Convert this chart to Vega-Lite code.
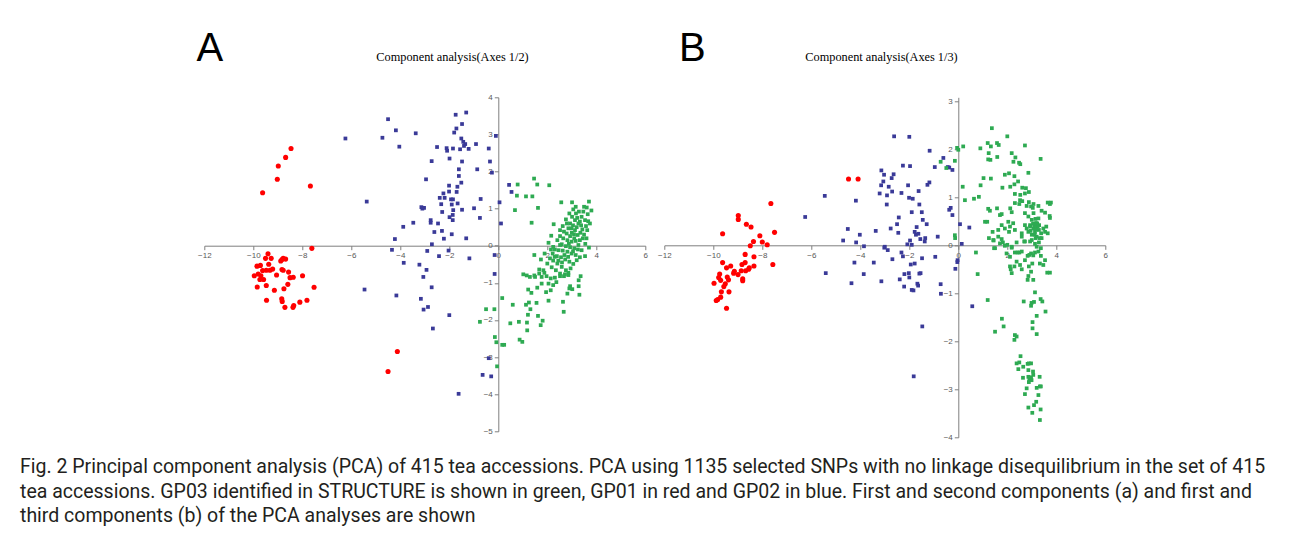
{
  "$schema": "https://vega.github.io/schema/vega-lite/v6.json",
  "autosize": {"type": "none"},
  "padding": {"left": 204.3, "top": 97.3, "right": 1087.7, "bottom": 437.7},
  "background": "white",
  "config": {
    "view": {"stroke": null},
    "concat": {"spacing": 9},
    "axis": {
      "grid": false, "labelFont": "Liberation Sans", "labelFontSize": 8, "labelColor": "#595959",
      "domainColor": "#7f7f7f", "tickColor": "#7f7f7f", "tickSize": 4, "labelPadding": 2,
      "labelOverlap": false, "labelFlush": false, "titleFontWeight": "normal", "titleColor": "#000000"
    }
  },
  "title": {
    "text": [
      "Fig. 2 Principal component analysis (PCA) of 415 tea accessions. PCA using 1135 selected SNPs with no linkage disequilibrium in the set of 415",
      "tea accessions. GP03 identified in STRUCTURE is shown in green, GP01 in red and GP02 in blue. First and second components (a) and first and",
      "third components (b) of the PCA analyses are shown"
    ],
    "orient": "bottom", "anchor": "start", "font": "Roboto", "fontSize": 19.5, "fontWeight": "normal",
    "lineHeight": 24.5, "color": "#231f20", "dx": -176, "offset": 17
  },
  "datasets": {
    "A": [
      {"x":-8.46,"y":2.62,"g":"GP01"},{"x":-8.68,"y":2.38,"g":"GP01"},{"x":-8.98,"y":2.15,"g":"GP01"},{"x":-9.02,"y":1.79,"g":"GP01"},{"x":-9.62,"y":1.43,"g":"GP01"},{"x":-7.67,"y":1.61,"g":"GP01"},{"x":-7.61,"y":-0.07,"g":"GP01"},
      {"x":-9.40,"y":-0.22,"g":"GP01"},{"x":-9.27,"y":-0.34,"g":"GP01"},{"x":-9.50,"y":-0.34,"g":"GP01"},{"x":-9.71,"y":-0.53,"g":"GP01"},{"x":-9.85,"y":-0.55,"g":"GP01"},{"x":-9.37,"y":-0.50,"g":"GP01"},{"x":-9.96,"y":-0.81,"g":"GP01"},{"x":-9.80,"y":-0.76,"g":"GP01"},{"x":-9.69,"y":-0.81,"g":"GP01"},{"x":-9.73,"y":-0.91,"g":"GP01"},{"x":-9.58,"y":-0.91,"g":"GP01"},{"x":-9.62,"y":-0.67,"g":"GP01"},{"x":-9.47,"y":-0.66,"g":"GP01"},{"x":-9.32,"y":-0.66,"g":"GP01"},{"x":-9.21,"y":-0.63,"g":"GP01"},{"x":-9.84,"y":-1.11,"g":"GP01"},{"x":-9.47,"y":-1.07,"g":"GP01"},{"x":-9.05,"y":-0.79,"g":"GP01"},{"x":-9.14,"y":-1.20,"g":"GP01"},{"x":-9.46,"y":-1.47,"g":"GP01"},{"x":-8.88,"y":-0.41,"g":"GP01"},{"x":-8.83,"y":-0.37,"g":"GP01"},{"x":-8.78,"y":-0.34,"g":"GP01"},{"x":-8.68,"y":-0.36,"g":"GP01"},{"x":-8.83,"y":-0.64,"g":"GP01"},{"x":-8.78,"y":-0.66,"g":"GP01"},{"x":-8.56,"y":-0.71,"g":"GP01"},{"x":-8.50,"y":-0.86,"g":"GP01"},{"x":-8.37,"y":-0.85,"g":"GP01"},{"x":-8.59,"y":-1.04,"g":"GP01"},{"x":-8.75,"y":-1.16,"g":"GP01"},{"x":-7.99,"y":-0.81,"g":"GP01"},{"x":-7.52,"y":-1.12,"g":"GP01"},{"x":-8.84,"y":-1.43,"g":"GP01"},{"x":-8.82,"y":-1.50,"g":"GP01"},{"x":-8.71,"y":-1.66,"g":"GP01"},{"x":-8.38,"y":-1.66,"g":"GP01"},{"x":-8.35,"y":-1.61,"g":"GP01"},{"x":-8.10,"y":-1.52,"g":"GP01"},{"x":-7.81,"y":-1.47,"g":"GP01"},{"x":-4.12,"y":-2.85,"g":"GP01"},{"x":-4.50,"y":-3.39,"g":"GP01"},
      {"x":-4.50,"y":3.41,"g":"GP02"},{"x":-4.18,"y":3.11,"g":"GP02"},{"x":-4.04,"y":2.67,"g":"GP02"},{"x":-4.73,"y":2.91,"g":"GP02"},{"x":-6.24,"y":2.89,"g":"GP02"},{"x":-3.37,"y":3.03,"g":"GP02"},{"x":-1.74,"y":3.53,"g":"GP02"},{"x":-1.31,"y":3.59,"g":"GP02"},{"x":-1.71,"y":3.16,"g":"GP02"},{"x":-1.48,"y":3.28,"g":"GP02"},{"x":-1.80,"y":3.05,"g":"GP02"},{"x":-1.51,"y":2.89,"g":"GP02"},{"x":-1.43,"y":2.80,"g":"GP02"},{"x":-1.35,"y":2.74,"g":"GP02"},{"x":-1.40,"y":2.69,"g":"GP02"},{"x":-1.21,"y":2.61,"g":"GP02"},{"x":-1.56,"y":2.60,"g":"GP02"},{"x":-0.91,"y":2.74,"g":"GP02"},{"x":-0.10,"y":2.96,"g":"GP02"},{"x":-0.39,"y":2.62,"g":"GP02"},{"x":-0.34,"y":2.27,"g":"GP02"},{"x":-0.26,"y":1.97,"g":"GP02"},{"x":-2.50,"y":2.66,"g":"GP02"},{"x":-2.11,"y":2.63,"g":"GP02"},{"x":-2.09,"y":2.56,"g":"GP02"},{"x":-1.85,"y":2.62,"g":"GP02"},{"x":-1.99,"y":2.35,"g":"GP02"},{"x":-2.72,"y":2.28,"g":"GP02"},{"x":-1.48,"y":2.27,"g":"GP02"},{"x":-1.61,"y":2.06,"g":"GP02"},{"x":-0.86,"y":2.06,"g":"GP02"},{"x":-1.61,"y":1.88,"g":"GP02"},{"x":-1.51,"y":1.70,"g":"GP02"},{"x":-2.95,"y":1.79,"g":"GP02"},{"x":-2.01,"y":1.62,"g":"GP02"},{"x":-1.67,"y":1.59,"g":"GP02"},{"x":-1.70,"y":1.45,"g":"GP02"},{"x":-2.01,"y":1.46,"g":"GP02"},{"x":-2.24,"y":1.41,"g":"GP02"},{"x":-2.39,"y":1.29,"g":"GP02"},{"x":-2.19,"y":1.29,"g":"GP02"},{"x":-1.93,"y":1.25,"g":"GP02"},{"x":-1.85,"y":1.25,"g":"GP02"},{"x":-1.66,"y":1.14,"g":"GP02"},{"x":-2.33,"y":1.12,"g":"GP02"},{"x":-1.90,"y":1.11,"g":"GP02"},{"x":-0.72,"y":1.26,"g":"GP02"},{"x":-3.14,"y":1.04,"g":"GP02"},{"x":-3.03,"y":1.02,"g":"GP02"},{"x":-3.10,"y":1.00,"g":"GP02"},{"x":-1.48,"y":0.97,"g":"GP02"},{"x":-1.84,"y":0.96,"g":"GP02"},{"x":-0.99,"y":1.01,"g":"GP02"},{"x":-2.29,"y":0.91,"g":"GP02"},{"x":-1.86,"y":0.83,"g":"GP02"},{"x":-1.99,"y":0.77,"g":"GP02"},{"x":-1.86,"y":0.69,"g":"GP02"},{"x":-0.75,"y":0.75,"g":"GP02"},{"x":-2.76,"y":0.69,"g":"GP02"},{"x":-2.76,"y":0.62,"g":"GP02"},{"x":-2.46,"y":0.60,"g":"GP02"},{"x":-3.47,"y":0.62,"g":"GP02"},{"x":-3.88,"y":0.51,"g":"GP02"},{"x":-2.61,"y":0.37,"g":"GP02"},{"x":-2.30,"y":0.40,"g":"GP02"},{"x":-1.90,"y":0.31,"g":"GP02"},{"x":-2.22,"y":0.19,"g":"GP02"},{"x":-1.31,"y":0.20,"g":"GP02"},{"x":-4.22,"y":0.18,"g":"GP02"},{"x":-2.71,"y":0.04,"g":"GP02"},{"x":0.05,"y":1.17,"g":"GP02"},{"x":0.11,"y":0.60,"g":"GP02"},{"x":-4.34,"y":-0.11,"g":"GP02"},{"x":-2.90,"y":-0.14,"g":"GP02"},{"x":-2.03,"y":-0.13,"g":"GP02"},{"x":-3.86,"y":-0.46,"g":"GP02"},{"x":-1.18,"y":-0.34,"g":"GP02"},{"x":-0.15,"y":-0.25,"g":"GP02"},{"x":-5.37,"y":1.19,"g":"GP02"},{"x":0.44,"y":1.64,"g":"GP02"},{"x":0.54,"y":1.45,"g":"GP02"},
      {"x":-3.22,"y":-0.51,"g":"GP02"},{"x":-2.93,"y":-0.65,"g":"GP02"},{"x":-3.06,"y":-0.84,"g":"GP02"},{"x":-2.72,"y":-1.12,"g":"GP02"},{"x":-5.46,"y":-1.18,"g":"GP02"},{"x":-4.16,"y":-1.34,"g":"GP02"},{"x":-3.16,"y":-1.43,"g":"GP02"},{"x":-3.05,"y":-1.72,"g":"GP02"},{"x":-2.87,"y":-1.65,"g":"GP02"},{"x":-2.00,"y":-1.87,"g":"GP02"},{"x":-2.67,"y":-2.23,"g":"GP02"},{"x":-2.42,"y":-0.28,"g":"GP02"},{"x":-0.15,"y":-0.76,"g":"GP02"},{"x":-0.39,"y":-3.03,"g":"GP02"},{"x":-0.64,"y":-3.48,"g":"GP02"},{"x":-0.29,"y":-3.52,"g":"GP02"},{"x":-1.62,"y":-3.99,"g":"GP02"},
      {"x":1.46,"y":1.81,"g":"GP03"},{"x":1.59,"y":1.65,"g":"GP03"},{"x":2.08,"y":1.63,"g":"GP03"},{"x":0.79,"y":1.65,"g":"GP03"},{"x":0.76,"y":1.35,"g":"GP03"},{"x":1.13,"y":1.33,"g":"GP03"},{"x":1.39,"y":1.33,"g":"GP03"},{"x":0.68,"y":0.96,"g":"GP03"},{"x":1.62,"y":1.02,"g":"GP03"},{"x":1.36,"y":0.62,"g":"GP03"},{"x":2.57,"y":1.17,"g":"GP03"},{"x":3.01,"y":1.17,"g":"GP03"},{"x":3.70,"y":1.19,"g":"GP03"},{"x":3.50,"y":1.05,"g":"GP03"},{"x":3.61,"y":1.03,"g":"GP03"},{"x":2.26,"y":0.58,"g":"GP03"},{"x":2.16,"y":0.27,"g":"GP03"},{"x":2.05,"y":0.08,"g":"GP03"},
      {"x":3.06,"y":0.98,"g":"GP03"},{"x":3.17,"y":0.87,"g":"GP03"},{"x":3.29,"y":0.92,"g":"GP03"},{"x":3.40,"y":0.78,"g":"GP03"},{"x":3.54,"y":0.69,"g":"GP03"},{"x":3.67,"y":0.66,"g":"GP03"},{"x":3.74,"y":0.60,"g":"GP03"},{"x":3.58,"y":0.53,"g":"GP03"},{"x":3.63,"y":0.42,"g":"GP03"},{"x":3.43,"y":0.44,"g":"GP03"},{"x":3.27,"y":0.60,"g":"GP03"},{"x":3.13,"y":0.69,"g":"GP03"},{"x":3.01,"y":0.78,"g":"GP03"},{"x":2.93,"y":0.60,"g":"GP03"},{"x":2.86,"y":0.47,"g":"GP03"},{"x":2.79,"y":0.33,"g":"GP03"},{"x":2.93,"y":0.26,"g":"GP03"},{"x":3.09,"y":0.31,"g":"GP03"},{"x":3.24,"y":0.29,"g":"GP03"},{"x":3.33,"y":0.15,"g":"GP03"},{"x":3.16,"y":0.13,"g":"GP03"},{"x":2.99,"y":0.11,"g":"GP03"},{"x":2.82,"y":0.15,"g":"GP03"},{"x":2.65,"y":0.20,"g":"GP03"},{"x":2.52,"y":0.26,"g":"GP03"},{"x":2.41,"y":0.15,"g":"GP03"},{"x":2.59,"y":0.04,"g":"GP03"},{"x":2.76,"y":-0.01,"g":"GP03"},{"x":2.93,"y":-0.04,"g":"GP03"},{"x":3.10,"y":-0.07,"g":"GP03"},{"x":3.27,"y":0.02,"g":"GP03"},{"x":3.40,"y":-0.12,"g":"GP03"},{"x":3.54,"y":-0.28,"g":"GP03"},{"x":3.33,"y":-0.31,"g":"GP03"},{"x":3.16,"y":-0.25,"g":"GP03"},{"x":2.99,"y":-0.21,"g":"GP03"},{"x":2.82,"y":-0.16,"g":"GP03"},{"x":2.63,"y":-0.13,"g":"GP03"},{"x":2.46,"y":-0.12,"g":"GP03"},{"x":2.31,"y":-0.10,"g":"GP03"},{"x":2.22,"y":-0.21,"g":"GP03"},{"x":2.39,"y":-0.28,"g":"GP03"},{"x":2.56,"y":-0.31,"g":"GP03"},{"x":2.73,"y":-0.37,"g":"GP03"},{"x":2.90,"y":-0.43,"g":"GP03"},{"x":3.06,"y":-0.49,"g":"GP03"},{"x":3.20,"y":-0.39,"g":"GP03"},{"x":2.95,"y":-0.61,"g":"GP03"},{"x":2.76,"y":-0.66,"g":"GP03"},{"x":2.59,"y":-0.57,"g":"GP03"},{"x":2.41,"y":-0.48,"g":"GP03"},{"x":2.24,"y":-0.40,"g":"GP03"},{"x":2.11,"y":-0.34,"g":"GP03"},{"x":2.00,"y":-0.48,"g":"GP03"},{"x":2.18,"y":-0.58,"g":"GP03"},{"x":2.35,"y":-0.66,"g":"GP03"},{"x":2.52,"y":-0.75,"g":"GP03"},{"x":2.68,"y":-0.82,"g":"GP03"},{"x":2.86,"y":-0.79,"g":"GP03"},{"x":1.84,"y":-0.66,"g":"GP03"},{"x":1.67,"y":-0.75,"g":"GP03"},{"x":1.50,"y":-0.84,"g":"GP03"},{"x":1.97,"y":-0.82,"g":"GP03"},{"x":2.14,"y":-0.88,"g":"GP03"},{"x":2.31,"y":-0.86,"g":"GP03"},{"x":1.74,"y":-0.37,"g":"GP03"},{"x":1.47,"y":-0.25,"g":"GP03"},{"x":1.89,"y":-0.21,"g":"GP03"},{"x":2.24,"y":-0.03,"g":"GP03"},{"x":2.52,"y":0.02,"g":"GP03"},{"x":2.68,"y":0.38,"g":"GP03"},{"x":2.99,"y":0.47,"g":"GP03"},{"x":3.13,"y":0.42,"g":"GP03"},{"x":3.33,"y":0.65,"g":"GP03"},{"x":3.47,"y":0.92,"g":"GP03"},{"x":3.16,"y":1.05,"g":"GP03"},{"x":2.90,"y":0.87,"g":"GP03"},{"x":2.76,"y":0.71,"g":"GP03"},{"x":2.63,"y":0.53,"g":"GP03"},{"x":2.52,"y":0.42,"g":"GP03"},
      {"x":3.20,"y":0.50,"g":"GP03"},{"x":3.05,"y":0.55,"g":"GP03"},{"x":3.35,"y":0.35,"g":"GP03"},{"x":3.45,"y":0.20,"g":"GP03"},{"x":3.55,"y":0.05,"g":"GP03"},{"x":3.10,"y":0.20,"g":"GP03"},{"x":2.88,"y":0.05,"g":"GP03"},{"x":3.00,"y":0.35,"g":"GP03"},{"x":3.22,"y":0.75,"g":"GP03"},{"x":3.38,"y":0.55,"g":"GP03"},{"x":3.65,"y":0.85,"g":"GP03"},{"x":3.50,"y":0.30,"g":"GP03"},{"x":2.70,"y":-0.25,"g":"GP03"},{"x":2.85,"y":-0.30,"g":"GP03"},{"x":3.05,"y":-0.15,"g":"GP03"},{"x":2.60,"y":-0.45,"g":"GP03"},{"x":2.45,"y":-0.40,"g":"GP03"},{"x":2.30,"y":-0.30,"g":"GP03"},{"x":2.15,"y":-0.10,"g":"GP03"},{"x":3.25,"y":-0.10,"g":"GP03"},{"x":3.60,"y":0.20,"g":"GP03"},{"x":3.70,"y":-0.05,"g":"GP03"},{"x":3.80,"y":0.95,"g":"GP03"},{"x":2.80,"y":0.60,"g":"GP03"},
      {"x":1.02,"y":-0.77,"g":"GP03"},{"x":1.16,"y":-0.80,"g":"GP03"},{"x":1.29,"y":-0.84,"g":"GP03"},{"x":1.47,"y":-0.80,"g":"GP03"},{"x":1.67,"y":-0.64,"g":"GP03"},{"x":1.77,"y":-0.84,"g":"GP03"},{"x":1.88,"y":-0.73,"g":"GP03"},{"x":1.22,"y":-1.18,"g":"GP03"},{"x":1.35,"y":-1.27,"g":"GP03"},{"x":1.59,"y":-1.13,"g":"GP03"},{"x":1.77,"y":-1.02,"g":"GP03"},{"x":1.95,"y":-1.25,"g":"GP03"},{"x":2.14,"y":-1.20,"g":"GP03"},{"x":2.05,"y":-1.02,"g":"GP03"},{"x":2.24,"y":-1.06,"g":"GP03"},{"x":2.37,"y":-0.98,"g":"GP03"},{"x":2.52,"y":-0.82,"g":"GP03"},{"x":2.72,"y":-0.77,"g":"GP03"},{"x":2.86,"y":-0.73,"g":"GP03"},{"x":2.93,"y":-1.09,"g":"GP03"},{"x":3.02,"y":-1.17,"g":"GP03"},{"x":2.82,"y":-1.29,"g":"GP03"},{"x":3.28,"y":-1.09,"g":"GP03"},{"x":3.31,"y":-1.32,"g":"GP03"},{"x":3.28,"y":-0.93,"g":"GP03"},{"x":3.36,"y":-0.82,"g":"GP03"},{"x":2.90,"y":-1.15,"g":"GP03"},
      {"x":0.16,"y":-1.41,"g":"GP03"},{"x":0.59,"y":-1.59,"g":"GP03"},{"x":-0.50,"y":-1.71,"g":"GP03"},{"x":-0.16,"y":-1.71,"g":"GP03"},{"x":-0.75,"y":-2.05,"g":"GP03"},{"x":0.49,"y":-2.09,"g":"GP03"},{"x":0.84,"y":-2.05,"g":"GP03"},{"x":1.17,"y":-2.07,"g":"GP03"},{"x":1.21,"y":-1.86,"g":"GP03"},{"x":1.13,"y":-1.59,"g":"GP03"},{"x":1.25,"y":-1.53,"g":"GP03"},{"x":1.56,"y":-1.54,"g":"GP03"},{"x":1.31,"y":-1.71,"g":"GP03"},{"x":1.62,"y":-1.89,"g":"GP03"},{"x":1.81,"y":-2.02,"g":"GP03"},{"x":1.73,"y":-2.14,"g":"GP03"},{"x":1.18,"y":-2.28,"g":"GP03"},{"x":2.05,"y":-1.48,"g":"GP03"},{"x":2.64,"y":-1.51,"g":"GP03"},{"x":2.67,"y":-1.78,"g":"GP03"},{"x":0.87,"y":-2.53,"g":"GP03"},{"x":0.98,"y":-2.59,"g":"GP03"},{"x":-0.14,"y":-2.46,"g":"GP03"},{"x":-0.08,"y":-2.60,"g":"GP03"},{"x":0.16,"y":-2.67,"g":"GP03"},{"x":0.24,"y":-2.67,"g":"GP03"},{"x":-0.05,"y":-3.25,"g":"GP03"}
    ],
    "B": [
      {"x":-9.62,"y":0.24,"g":"GP01"},{"x":-8.98,"y":0.62,"g":"GP01"},{"x":-8.98,"y":0.54,"g":"GP01"},{"x":-8.65,"y":0.44,"g":"GP01"},{"x":-8.46,"y":0.38,"g":"GP01"},{"x":-7.65,"y":0.87,"g":"GP01"},{"x":-8.10,"y":0.20,"g":"GP01"},{"x":-8.36,"y":0.08,"g":"GP01"},{"x":-8.00,"y":0.07,"g":"GP01"},{"x":-7.80,"y":0.01,"g":"GP01"},{"x":-8.49,"y":-0.01,"g":"GP01"},{"x":-7.50,"y":0.27,"g":"GP01"},{"x":-4.48,"y":1.38,"g":"GP01"},{"x":-4.09,"y":1.38,"g":"GP01"},{"x":-9.62,"y":-0.36,"g":"GP01"},{"x":-8.70,"y":-0.19,"g":"GP01"},{"x":-8.34,"y":-0.24,"g":"GP01"},{"x":-7.57,"y":-0.40,"g":"GP01"},{"x":-8.83,"y":-0.40,"g":"GP01"},{"x":-8.70,"y":-0.36,"g":"GP01"},{"x":-9.29,"y":-0.43,"g":"GP01"},{"x":-9.46,"y":-0.47,"g":"GP01"},{"x":-9.14,"y":-0.54,"g":"GP01"},{"x":-9.17,"y":-0.58,"g":"GP01"},{"x":-8.99,"y":-0.61,"g":"GP01"},{"x":-8.86,"y":-0.53,"g":"GP01"},{"x":-8.68,"y":-0.53,"g":"GP01"},{"x":-8.56,"y":-0.50,"g":"GP01"},{"x":-8.53,"y":-0.47,"g":"GP01"},{"x":-8.80,"y":-0.70,"g":"GP01"},{"x":-8.80,"y":-0.74,"g":"GP01"},{"x":-9.74,"y":-0.60,"g":"GP01"},{"x":-9.78,"y":-0.67,"g":"GP01"},{"x":-9.70,"y":-0.73,"g":"GP01"},{"x":-9.43,"y":-0.66,"g":"GP01"},{"x":-9.38,"y":-0.72,"g":"GP01"},{"x":-9.97,"y":-0.79,"g":"GP01"},{"x":-9.51,"y":-0.80,"g":"GP01"},{"x":-9.57,"y":-0.86,"g":"GP01"},{"x":-9.67,"y":-0.97,"g":"GP01"},{"x":-9.36,"y":-0.97,"g":"GP01"},{"x":-9.70,"y":-1.08,"g":"GP01"},{"x":-9.82,"y":-1.13,"g":"GP01"},{"x":-9.88,"y":-1.15,"g":"GP01"},{"x":-9.46,"y":-1.31,"g":"GP01"},{"x":-8.34,"y":-0.43,"g":"GP01"},
      {"x":-2.62,"y":2.27,"g":"GP02"},{"x":-2.00,"y":2.26,"g":"GP02"},{"x":-1.17,"y":1.97,"g":"GP02"},{"x":-0.61,"y":1.82,"g":"GP02"},{"x":-0.96,"y":1.63,"g":"GP02"},{"x":-0.43,"y":1.63,"g":"GP02"},{"x":-0.37,"y":1.62,"g":"GP02"},{"x":-0.24,"y":1.57,"g":"GP02"},{"x":-2.26,"y":1.66,"g":"GP02"},{"x":-1.97,"y":1.65,"g":"GP02"},{"x":-3.14,"y":1.56,"g":"GP02"},{"x":-3.03,"y":1.47,"g":"GP02"},{"x":-2.64,"y":1.48,"g":"GP02"},{"x":-2.72,"y":1.40,"g":"GP02"},{"x":-3.06,"y":1.33,"g":"GP02"},{"x":-3.15,"y":1.25,"g":"GP02"},{"x":-2.84,"y":1.22,"g":"GP02"},{"x":-2.05,"y":1.25,"g":"GP02"},{"x":-1.26,"y":1.26,"g":"GP02"},{"x":-1.18,"y":1.31,"g":"GP02"},{"x":-2.70,"y":1.12,"g":"GP02"},{"x":-3.21,"y":1.08,"g":"GP02"},{"x":-2.91,"y":1.04,"g":"GP02"},{"x":-2.32,"y":1.09,"g":"GP02"},{"x":-1.62,"y":1.13,"g":"GP02"},{"x":-2.01,"y":0.99,"g":"GP02"},{"x":-1.86,"y":0.97,"g":"GP02"},{"x":-1.59,"y":0.85,"g":"GP02"},{"x":-2.92,"y":0.85,"g":"GP02"},{"x":-4.18,"y":0.93,"g":"GP02"},{"x":-5.45,"y":1.03,"g":"GP02"},{"x":-6.25,"y":0.59,"g":"GP02"},{"x":-1.90,"y":0.69,"g":"GP02"},{"x":-1.49,"y":0.69,"g":"GP02"},{"x":-1.45,"y":0.53,"g":"GP02"},{"x":-1.29,"y":0.44,"g":"GP02"},{"x":-1.70,"y":0.38,"g":"GP02"},{"x":-2.43,"y":0.58,"g":"GP02"},{"x":-2.50,"y":0.44,"g":"GP02"},{"x":-2.76,"y":0.35,"g":"GP02"},{"x":-3.37,"y":0.30,"g":"GP02"},{"x":-2.45,"y":0.26,"g":"GP02"},{"x":-1.78,"y":0.28,"g":"GP02"},{"x":-1.73,"y":0.22,"g":"GP02"},{"x":-1.63,"y":0.24,"g":"GP02"},{"x":-1.55,"y":0.13,"g":"GP02"},{"x":-1.35,"y":0.15,"g":"GP02"},{"x":-1.37,"y":0.08,"g":"GP02"},{"x":-0.84,"y":0.18,"g":"GP02"},{"x":-1.97,"y":0.10,"g":"GP02"},{"x":-2.08,"y":0.02,"g":"GP02"},{"x":-1.90,"y":0.01,"g":"GP02"},{"x":-0.37,"y":0.74,"g":"GP02"},{"x":-0.31,"y":0.78,"g":"GP02"},{"x":-0.24,"y":0.63,"g":"GP02"},{"x":0.07,"y":0.44,"g":"GP02"},{"x":0.45,"y":0.37,"g":"GP02"},{"x":-4.51,"y":0.34,"g":"GP02"},{"x":-4.02,"y":0.22,"g":"GP02"},{"x":-4.70,"y":0.10,"g":"GP02"},{"x":-4.17,"y":0.06,"g":"GP02"},{"x":-3.85,"y":-0.02,"g":"GP02"},{"x":-3.00,"y":-0.03,"g":"GP02"},{"x":0.14,"y":0.03,"g":"GP02"},
      {"x":-4.24,"y":-0.36,"g":"GP02"},{"x":-3.86,"y":-0.60,"g":"GP02"},{"x":-3.45,"y":-0.36,"g":"GP02"},{"x":-4.36,"y":-0.79,"g":"GP02"},{"x":-5.41,"y":-0.58,"g":"GP02"},{"x":-3.14,"y":-0.75,"g":"GP02"},{"x":-3.02,"y":-0.05,"g":"GP02"},{"x":-2.88,"y":-0.10,"g":"GP02"},{"x":-2.69,"y":-0.29,"g":"GP02"},{"x":-2.32,"y":-0.15,"g":"GP02"},{"x":-2.26,"y":-0.23,"g":"GP02"},{"x":-2.20,"y":-0.60,"g":"GP02"},{"x":-2.39,"y":-0.71,"g":"GP02"},{"x":-2.02,"y":-0.58,"g":"GP02"},{"x":-2.00,"y":-0.67,"g":"GP02"},{"x":-2.21,"y":-0.86,"g":"GP02"},{"x":-1.90,"y":-0.93,"g":"GP02"},{"x":-1.83,"y":-0.94,"g":"GP02"},{"x":-1.78,"y":-0.38,"g":"GP02"},{"x":-1.94,"y":-0.40,"g":"GP02"},{"x":-1.59,"y":-0.59,"g":"GP02"},{"x":-1.54,"y":-0.58,"g":"GP02"},{"x":-1.67,"y":-0.80,"g":"GP02"},{"x":-1.64,"y":-0.84,"g":"GP02"},{"x":-1.48,"y":-0.27,"g":"GP02"},{"x":-0.94,"y":-0.24,"g":"GP02"},{"x":-0.72,"y":-0.81,"g":"GP02"},{"x":-0.71,"y":-1.01,"g":"GP02"},{"x":-0.12,"y":-0.49,"g":"GP02"},{"x":-0.04,"y":-0.35,"g":"GP02"},{"x":-1.47,"y":-1.69,"g":"GP02"},{"x":-1.82,"y":-2.73,"g":"GP02"},{"x":0.57,"y":-1.27,"g":"GP02"},{"x":-0.03,"y":-0.31,"g":"GP02"},
      {"x":-0.72,"y":1.74,"g":"GP03"},{"x":-0.49,"y":1.61,"g":"GP03"},{"x":-0.14,"y":1.76,"g":"GP03"},{"x":-0.05,"y":2.03,"g":"GP03"},{"x":0.0,"y":1.99,"g":"GP03"},{"x":0.20,"y":2.06,"g":"GP03"},{"x":0.18,"y":1.22,"g":"GP03"},{"x":0.27,"y":0.94,"g":"GP03"},{"x":-0.14,"y":0.21,"g":"GP03"},{"x":-0.13,"y":0.15,"g":"GP03"},
      {"x":1.37,"y":2.44,"g":"GP03"},{"x":2.0,"y":2.27,"g":"GP03"},{"x":2.72,"y":2.08,"g":"GP03"},{"x":1.20,"y":2.13,"g":"GP03"},{"x":1.33,"y":2.06,"g":"GP03"},{"x":1.58,"y":2.13,"g":"GP03"},{"x":1.65,"y":2.09,"g":"GP03"},{"x":0.90,"y":2.02,"g":"GP03"},{"x":1.24,"y":1.92,"g":"GP03"},{"x":2.18,"y":1.92,"g":"GP03"},{"x":2.33,"y":1.83,"g":"GP03"},{"x":1.59,"y":1.84,"g":"GP03"},{"x":1.22,"y":1.79,"g":"GP03"},{"x":1.31,"y":1.78,"g":"GP03"},{"x":2.25,"y":1.74,"g":"GP03"},{"x":2.48,"y":1.72,"g":"GP03"},{"x":2.53,"y":1.69,"g":"GP03"},{"x":3.36,"y":1.80,"g":"GP03"},{"x":2.86,"y":1.51,"g":"GP03"},{"x":1.90,"y":1.47,"g":"GP03"},{"x":2.07,"y":1.50,"g":"GP03"},{"x":2.29,"y":1.44,"g":"GP03"},{"x":1.03,"y":1.40,"g":"GP03"},{"x":1.33,"y":1.39,"g":"GP03"},{"x":0.91,"y":1.25,"g":"GP03"},{"x":1.80,"y":1.20,"g":"GP03"},{"x":2.12,"y":1.22,"g":"GP03"},{"x":2.44,"y":1.33,"g":"GP03"},{"x":2.29,"y":1.27,"g":"GP03"},{"x":2.61,"y":1.20,"g":"GP03"},{"x":2.76,"y":1.19,"g":"GP03"},{"x":2.31,"y":1.07,"g":"GP03"},{"x":2.53,"y":1.05,"g":"GP03"},{"x":2.72,"y":1.08,"g":"GP03"},{"x":2.88,"y":1.11,"g":"GP03"},{"x":0.64,"y":0.97,"g":"GP03"},{"x":0.84,"y":1.01,"g":"GP03"},
      {"x":1.22,"y":0.76,"g":"GP03"},{"x":1.29,"y":0.72,"g":"GP03"},{"x":1.58,"y":0.77,"g":"GP03"},{"x":1.70,"y":0.63,"g":"GP03"},{"x":1.77,"y":0.65,"g":"GP03"},{"x":1.09,"y":0.49,"g":"GP03"},{"x":1.18,"y":0.49,"g":"GP03"},{"x":2.12,"y":0.77,"g":"GP03"},{"x":2.18,"y":0.69,"g":"GP03"},{"x":2.31,"y":0.88,"g":"GP03"},{"x":2.49,"y":0.86,"g":"GP03"},{"x":2.52,"y":0.94,"g":"GP03"},{"x":2.61,"y":0.92,"g":"GP03"},{"x":2.79,"y":0.82,"g":"GP03"},{"x":2.97,"y":0.81,"g":"GP03"},{"x":2.88,"y":0.90,"g":"GP03"},{"x":3.07,"y":0.86,"g":"GP03"},{"x":3.04,"y":0.78,"g":"GP03"},{"x":3.27,"y":0.82,"g":"GP03"},{"x":3.65,"y":0.89,"g":"GP03"},{"x":3.74,"y":0.86,"g":"GP03"},{"x":3.78,"y":0.89,"g":"GP03"},{"x":3.40,"y":0.72,"g":"GP03"},{"x":3.54,"y":0.68,"g":"GP03"},{"x":3.73,"y":0.61,"g":"GP03"},{"x":3.74,"y":0.57,"g":"GP03"},{"x":1.77,"y":0.42,"g":"GP03"},{"x":1.90,"y":0.35,"g":"GP03"},{"x":2.04,"y":0.49,"g":"GP03"},{"x":2.24,"y":0.46,"g":"GP03"},{"x":2.07,"y":0.28,"g":"GP03"},{"x":2.31,"y":0.32,"g":"GP03"},{"x":2.59,"y":0.18,"g":"GP03"},{"x":1.40,"y":0.28,"g":"GP03"},{"x":1.25,"y":0.15,"g":"GP03"},{"x":1.44,"y":0.10,"g":"GP03"},{"x":1.46,"y":-0.06,"g":"GP03"},{"x":1.63,"y":0.18,"g":"GP03"},{"x":1.77,"y":0.13,"g":"GP03"},{"x":1.82,"y":0.06,"g":"GP03"},{"x":2.00,"y":0.01,"g":"GP03"},{"x":2.18,"y":-0.05,"g":"GP03"},{"x":2.72,"y":0.67,"g":"GP03"},{"x":2.86,"y":0.60,"g":"GP03"},{"x":3.0,"y":0.53,"g":"GP03"},{"x":2.93,"y":0.42,"g":"GP03"},{"x":3.07,"y":0.35,"g":"GP03"},{"x":3.16,"y":0.46,"g":"GP03"},{"x":3.24,"y":0.39,"g":"GP03"},{"x":3.29,"y":0.32,"g":"GP03"},{"x":3.13,"y":0.28,"g":"GP03"},{"x":3.0,"y":0.22,"g":"GP03"},{"x":3.20,"y":0.18,"g":"GP03"},{"x":3.33,"y":0.15,"g":"GP03"},{"x":3.38,"y":0.25,"g":"GP03"},{"x":3.47,"y":0.35,"g":"GP03"},{"x":3.54,"y":0.28,"g":"GP03"},{"x":3.59,"y":0.39,"g":"GP03"},{"x":3.65,"y":0.25,"g":"GP03"},{"x":3.27,"y":0.56,"g":"GP03"},{"x":3.07,"y":0.67,"g":"GP03"},{"x":2.86,"y":0.28,"g":"GP03"},{"x":2.79,"y":0.35,"g":"GP03"},{"x":2.69,"y":0.08,"g":"GP03"},{"x":3.0,"y":0.11,"g":"GP03"},{"x":3.13,"y":0.03,"g":"GP03"},{"x":3.29,"y":0.06,"g":"GP03"},
      {"x":3.10,"y":0.40,"g":"GP03"},{"x":3.18,"y":0.33,"g":"GP03"},{"x":3.22,"y":0.45,"g":"GP03"},{"x":3.05,"y":0.45,"g":"GP03"},{"x":3.15,"y":0.55,"g":"GP03"},{"x":3.30,"y":0.42,"g":"GP03"},{"x":2.95,"y":0.30,"g":"GP03"},{"x":3.12,"y":0.22,"g":"GP03"},
      {"x":0.72,"y":-0.15,"g":"GP03"},{"x":0.79,"y":-0.60,"g":"GP03"},{"x":1.20,"y":-1.14,"g":"GP03"},{"x":1.43,"y":0.11,"g":"GP03"},{"x":1.50,"y":-0.06,"g":"GP03"},{"x":1.70,"y":0.04,"g":"GP03"},{"x":1.90,"y":-0.01,"g":"GP03"},{"x":1.97,"y":-0.17,"g":"GP03"},{"x":2.11,"y":-0.24,"g":"GP03"},{"x":2.18,"y":-0.03,"g":"GP03"},{"x":2.31,"y":-0.15,"g":"GP03"},{"x":2.42,"y":-0.15,"g":"GP03"},{"x":2.49,"y":-0.15,"g":"GP03"},{"x":2.59,"y":-0.13,"g":"GP03"},{"x":2.38,"y":-0.34,"g":"GP03"},{"x":2.52,"y":-0.41,"g":"GP03"},{"x":2.29,"y":-0.44,"g":"GP03"},{"x":2.11,"y":-0.44,"g":"GP03"},{"x":2.18,"y":-0.58,"g":"GP03"},{"x":2.14,"y":-0.50,"g":"GP03"},{"x":2.59,"y":-0.50,"g":"GP03"},{"x":2.72,"y":-0.31,"g":"GP03"},{"x":2.83,"y":-0.22,"g":"GP03"},{"x":2.90,"y":-0.20,"g":"GP03"},{"x":2.97,"y":-0.17,"g":"GP03"},{"x":3.06,"y":-0.21,"g":"GP03"},{"x":3.13,"y":-0.15,"g":"GP03"},{"x":3.27,"y":-0.13,"g":"GP03"},{"x":3.37,"y":-0.06,"g":"GP03"},{"x":3.20,"y":-0.03,"g":"GP03"},{"x":2.88,"y":-0.44,"g":"GP03"},{"x":2.97,"y":-0.55,"g":"GP03"},{"x":3.02,"y":-0.38,"g":"GP03"},{"x":2.86,"y":-0.64,"g":"GP03"},{"x":2.83,"y":-0.72,"g":"GP03"},{"x":3.06,"y":-0.72,"g":"GP03"},{"x":3.33,"y":-0.38,"g":"GP03"},{"x":3.54,"y":-0.31,"g":"GP03"},{"x":3.47,"y":-0.41,"g":"GP03"},{"x":3.63,"y":-0.57,"g":"GP03"},{"x":3.74,"y":-0.57,"g":"GP03"},{"x":3.37,"y":-0.22,"g":"GP03"},{"x":3.13,"y":-0.98,"g":"GP03"},{"x":2.67,"y":-1.17,"g":"GP03"},{"x":2.99,"y":-1.20,"g":"GP03"},{"x":3.09,"y":-1.18,"g":"GP03"},{"x":3.36,"y":-1.12,"g":"GP03"},{"x":3.43,"y":-1.17,"g":"GP03"},{"x":3.56,"y":-1.38,"g":"GP03"},{"x":2.97,"y":-1.26,"g":"GP03"},{"x":3.20,"y":-1.47,"g":"GP03"},{"x":1.78,"y":-1.53,"g":"GP03"},{"x":1.85,"y":-1.69,"g":"GP03"},{"x":3.03,"y":-1.60,"g":"GP03"},{"x":3.03,"y":-1.73,"g":"GP03"},
      {"x":2.59,"y":0.25,"g":"GP03"},{"x":2.72,"y":0.42,"g":"GP03"},{"x":2.93,"y":0.39,"g":"GP03"},{"x":3.20,"y":0.46,"g":"GP03"},{"x":3.40,"y":0.15,"g":"GP03"},{"x":3.16,"y":0.15,"g":"GP03"},{"x":2.93,"y":0.08,"g":"GP03"},{"x":2.72,"y":0.08,"g":"GP03"},{"x":2.38,"y":0.06,"g":"GP03"},{"x":1.63,"y":0.32,"g":"GP03"},{"x":2.11,"y":0.39,"g":"GP03"},
      {"x":1.50,"y":-1.80,"g":"GP03"},{"x":2.31,"y":-1.87,"g":"GP03"},{"x":2.38,"y":-1.90,"g":"GP03"},{"x":2.29,"y":-1.97,"g":"GP03"},{"x":3.20,"y":-1.85,"g":"GP03"},{"x":2.54,"y":-2.31,"g":"GP03"},{"x":2.38,"y":-2.46,"g":"GP03"},{"x":2.49,"y":-2.44,"g":"GP03"},{"x":2.65,"y":-2.53,"g":"GP03"},{"x":2.45,"y":-2.58,"g":"GP03"},{"x":2.83,"y":-2.47,"g":"GP03"},{"x":2.88,"y":-2.46,"g":"GP03"},{"x":2.97,"y":-2.46,"g":"GP03"},{"x":2.86,"y":-2.60,"g":"GP03"},{"x":3.05,"y":-2.63,"g":"GP03"},{"x":3.06,"y":-2.70,"g":"GP03"},{"x":2.97,"y":-2.75,"g":"GP03"},{"x":2.86,"y":-2.74,"g":"GP03"},{"x":2.90,"y":-2.79,"g":"GP03"},{"x":2.64,"y":-2.76,"g":"GP03"},{"x":2.88,"y":-2.85,"g":"GP03"},{"x":2.99,"y":-2.81,"g":"GP03"},{"x":3.32,"y":-2.74,"g":"GP03"},{"x":3.20,"y":-2.97,"g":"GP03"},{"x":3.33,"y":-2.94,"g":"GP03"},{"x":3.37,"y":-2.94,"g":"GP03"},{"x":2.79,"y":-2.98,"g":"GP03"},{"x":2.72,"y":-3.10,"g":"GP03"},{"x":3.27,"y":-3.12,"g":"GP03"},{"x":3.18,"y":-3.26,"g":"GP03"},{"x":3.09,"y":-3.33,"g":"GP03"},{"x":2.86,"y":-3.38,"g":"GP03"},{"x":3.02,"y":-3.49,"g":"GP03"},{"x":3.36,"y":-3.42,"g":"GP03"},{"x":3.33,"y":-3.64,"g":"GP03"}
    ]
  },
  "hconcat": [
    {
      "width": 441, "height": 334,
      "data": {"name": "A"},
      "encoding": {
        "x": {"field": "x", "type": "quantitative",
          "scale": {"domain": [-12, 6], "nice": false, "zero": false},
          "axis": {"orient": "bottom", "offset": -185.6, "values": [-12,-10,-8,-6,-4,-2,0,2,4,6],
            "title": "Component analysis(Axes 1/2)", "titleX": 247.7, "titleY": -185.7, "titleAlign": "center", "titleBaseline": "alphabetic",
            "titleFont": "Liberation Serif", "titleFontSize": 12.3}},
        "y": {"field": "y", "type": "quantitative",
          "scale": {"domain": [-5, 4], "nice": false, "zero": false},
          "axis": {"orient": "left", "offset": -294, "values": [-5,-4,-3,-2,-1,0,1,2,3,4],
            "title": "A", "titleAngle": 0, "titleX": -302.3, "titleY": -37.3, "titleAlign": "left", "titleBaseline": "alphabetic",
            "titleFont": "Liberation Sans", "titleFontSize": 40}},
        "color": {"field": "g", "type": "nominal", "legend": null,
          "scale": {"domain": ["GP01", "GP02", "GP03"], "range": ["#ff0000", "#3a3a98", "#2eaa52"]}}
      },
      "layer": [
        {"transform": [{"filter": "datum.g != 'GP01'"}],
         "mark": {"type": "point", "shape": "square", "filled": true, "size": 14, "opacity": 1}},
        {"transform": [{"filter": "datum.g == 'GP01'"}],
         "mark": {"type": "point", "shape": "circle", "filled": true, "size": 26, "opacity": 1}}
      ]
    },
    {
      "width": 441, "height": 340,
      "data": {"name": "B"},
      "encoding": {
        "x": {"field": "x", "type": "quantitative",
          "scale": {"domain": [-12, 6], "nice": false, "zero": false},
          "axis": {"orient": "bottom", "offset": -192, "values": [-12,-10,-8,-6,-4,-2,0,2,4,6],
            "title": "Component analysis(Axes 1/3)", "titleX": 216.7, "titleY": -185.3, "titleAlign": "center", "titleBaseline": "alphabetic",
            "titleFont": "Liberation Serif", "titleFontSize": 12.3}},
        "y": {"field": "y", "type": "quantitative",
          "scale": {"domain": [-4, 3.0833], "nice": false, "zero": false},
          "axis": {"orient": "left", "offset": -294, "values": [-4,-3,-2,-1,0,1,2,3],
            "title": "B", "titleAngle": 0, "titleX": -279.7, "titleY": -37.3, "titleAlign": "left", "titleBaseline": "alphabetic",
            "titleFont": "Liberation Sans", "titleFontSize": 40}},
        "color": {"field": "g", "type": "nominal", "legend": null,
          "scale": {"domain": ["GP01", "GP02", "GP03"], "range": ["#ff0000", "#3a3a98", "#2eaa52"]}}
      },
      "layer": [
        {"transform": [{"filter": "datum.g != 'GP01'"}],
         "mark": {"type": "point", "shape": "square", "filled": true, "size": 14, "opacity": 1}},
        {"transform": [{"filter": "datum.g == 'GP01'"}],
         "mark": {"type": "point", "shape": "circle", "filled": true, "size": 26, "opacity": 1}}
      ]
    }
  ]
}
